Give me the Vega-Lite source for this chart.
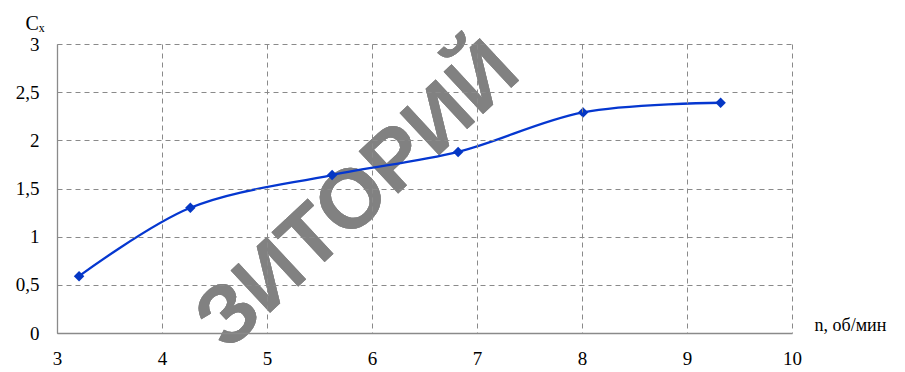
{
  "$schema": "https://vega.github.io/schema/vega-lite/v6.json",
  "width": 735,
  "height": 289,
  "autosize": "none",
  "padding": {"left": 57, "top": 44, "right": 113, "bottom": 39},
  "background": "white",
  "config": {
    "view": {"stroke": null},
    "font": "Liberation Serif"
  },
  "data": {
    "values": [
      {"n": 3.21, "cx": 0.59},
      {"n": 4.27, "cx": 1.3},
      {"n": 5.62, "cx": 1.64},
      {"n": 6.82, "cx": 1.88},
      {"n": 8.01, "cx": 2.29},
      {"n": 9.32, "cx": 2.39}
    ]
  },
  "layer": [
    {
      "mark": {"type": "text", "text": "ЗИТОРИЙ", "font": "Liberation Sans Narrow, Liberation Sans", "fontWeight": "bold", "fontSize": 84, "angle": -43, "fill": "#808080", "opacity": 0.5, "align": "center", "baseline": "middle"},
      "encoding": {
        "x": {"datum": 5.87, "type": "quantitative"},
        "y": {"datum": 1.42, "type": "quantitative"}
      }
    },
    {
      "mark": {"type": "line", "interpolate": "catmull-rom", "color": "#0537d0", "strokeWidth": 2.3},
      "encoding": {
        "x": {
          "field": "n", "type": "quantitative",
          "scale": {"domain": [3, 10], "nice": false, "zero": false},
          "axis": {
            "values": [3, 4, 5, 6, 7, 8, 9, 10],
            "format": "d",
            "labelFlush": false,
            "title": "n, об/мин",
            "titleFont": "Liberation Serif",
            "titleFontSize": 18,
            "titleFontWeight": "normal",
            "titleColor": "#000000",
            "titleAlign": "left",
            "titleBaseline": "alphabetic",
            "titleX": 757,
            "titleY": -3,
            "labelFont": "Liberation Serif",
            "labelFontSize": 19,
            "labelColor": "#000000",
            "labelPadding": 16,
            "ticks": false,
            "domainColor": "#8a8a8a",
            "domainWidth": 1.3,
            "grid": true,
            "gridColor": "#8a8a8a",
            "gridDash": [5, 4],
            "gridWidth": 1,
            "gridOpacity": 1,
            "zindex": 1
          }
        },
        "y": {
          "field": "cx", "type": "quantitative",
          "scale": {"domain": [0, 3], "nice": false},
          "axis": {
            "values": [0, 0.5, 1, 1.5, 2, 2.5, 3],
            "labelExpr": "replace(toString(datum.value), '.', ',')",
            "labelFlush": false,
            "title": "Cₓ",
            "titleFont": "Liberation Serif",
            "titleFontSize": 20,
            "titleFontWeight": "normal",
            "titleColor": "#000000",
            "titleAngle": 0,
            "titleAlign": "left",
            "titleBaseline": "alphabetic",
            "titleX": -32,
            "titleY": -15,
            "labelFont": "Liberation Serif",
            "labelFontSize": 19,
            "labelColor": "#000000",
            "labelPadding": 18,
            "ticks": false,
            "domainColor": "#8a8a8a",
            "domainWidth": 1.3,
            "grid": true,
            "gridColor": "#8a8a8a",
            "gridDash": [5, 4],
            "gridWidth": 1,
            "gridOpacity": 1,
            "zindex": 1
          }
        }
      }
    },
    {
      "mark": {"type": "point", "shape": "diamond", "filled": true, "color": "#0537c4", "size": 110, "opacity": 1},
      "encoding": {
        "x": {"field": "n", "type": "quantitative"},
        "y": {"field": "cx", "type": "quantitative"}
      }
    }
  ]
}
